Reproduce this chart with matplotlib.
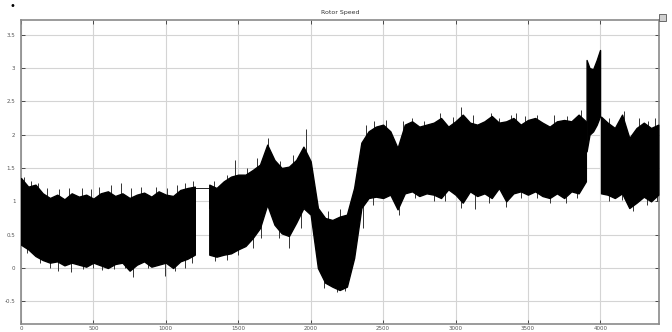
import numpy as np
import matplotlib
matplotlib.use("Agg")
import matplotlib.pyplot as plt
from matplotlib.patches import Rectangle

# envelope of the rotor speed trace
seg_a_x = [0, 50, 100, 150, 200, 250, 300, 350, 400, 450, 500, 550, 600,
           650, 700, 750, 800, 850, 900, 950, 1000, 1050, 1100, 1150, 1200]
seg_a_hi = [1.35, 1.22, 1.25, 1.12, 1.05, 1.1, 1.03, 1.12, 1.07, 1.1, 1.04, 1.12, 1.15,
            1.08, 1.12, 1.05, 1.1, 1.13, 1.07, 1.15, 1.1, 1.08, 1.17, 1.2, 1.22]
seg_a_lo = [0.35, 0.28, 0.18, 0.12, 0.08, 0.1, 0.04, 0.08, 0.05, 0.02, 0.08, 0.04, 0.0,
            0.06, 0.08, -0.04, 0.05, 0.1, 0.02, 0.05, 0.08, 0.0, 0.1, 0.14, 0.2]

# hold value during the data gap
gap_x = [1202, 1202, 1298, 1298]
gap_y = [0.25, 1.2, 1.2, 0.9]

seg_b_x = [1300, 1350, 1400, 1450, 1500, 1550, 1600, 1650, 1700, 1750, 1800, 1850, 1900,
           1950, 2000, 2050, 2100, 2150, 2200, 2250, 2300, 2350, 2400, 2450, 2500, 2550,
           2600, 2650, 2700, 2750, 2800, 2850, 2900, 2950, 3000, 3050, 3100, 3150, 3200,
           3250, 3300, 3350, 3400, 3450, 3500, 3550, 3600, 3650, 3700, 3750, 3800, 3850, 3900]
seg_b_hi = [1.25, 1.2, 1.3, 1.37, 1.4, 1.4, 1.47, 1.55, 1.85, 1.62, 1.5, 1.52, 1.62,
            1.82, 1.6, 0.9, 0.75, 0.72, 0.77, 0.8, 1.2, 1.88, 2.05, 2.12, 2.15, 2.05,
            1.8, 2.15, 2.2, 2.12, 2.15, 2.18, 2.25, 2.12, 2.2, 2.3, 2.18, 2.15, 2.2,
            2.28, 2.18, 2.2, 2.25, 2.15, 2.22, 2.25, 2.18, 2.12, 2.2, 2.22, 2.2, 2.3, 2.2]
seg_b_lo = [0.2, 0.17, 0.2, 0.22, 0.28, 0.33, 0.45, 0.6, 0.95, 0.65, 0.52, 0.48, 0.68,
            0.9, 0.8, 0.0, -0.22, -0.28, -0.33, -0.28, 0.15, 0.9, 1.05, 1.07, 1.05, 1.1,
            0.88, 1.12, 1.15, 1.08, 1.12, 1.1, 1.05, 1.18, 1.1, 0.98, 1.15, 1.08, 1.12,
            1.05, 1.2, 1.0, 1.12, 1.15, 1.1, 1.15, 1.08, 1.05, 1.12, 1.05, 1.15, 1.12, 1.3]

seg_c_x = [3905, 3925, 3950, 3975, 3998]
seg_c_hi = [3.12, 3.0, 2.98, 3.12, 3.27]
seg_c_lo = [1.75, 2.0, 2.05, 2.15, 2.28]

seg_d_x = [4005, 4050, 4100, 4150, 4200, 4250, 4300, 4350, 4400]
seg_d_hi = [2.27, 2.18, 2.1, 2.3, 1.95, 2.1, 2.18, 2.1, 2.15]
seg_d_lo = [1.12, 1.1, 1.05, 1.12, 0.9, 0.98, 1.07, 1.0, 1.1]

# single samples sticking out of the band
spike_up_x = [20, 70, 120, 180, 260, 330, 420, 480, 540, 620, 690, 760, 830, 930, 1010,
              1080, 1130, 1190, 1330, 1420, 1480, 1560, 1630, 1706, 1790, 1880, 1970,
              2120, 2200, 2380, 2440, 2520, 2640, 2700, 2780, 2894, 2980, 3040, 3120,
              3247, 3300, 3380, 3419, 3480, 3560, 3680, 3770, 3868, 4060, 4165, 4270,
              4330, 4380]
spike_up_y = [1.37, 1.3, 1.27, 1.2, 1.18, 1.2, 1.2, 1.18, 1.22, 1.25, 1.28, 1.2, 1.22,
              1.22, 1.2, 1.25, 1.27, 1.3, 1.3, 1.4, 1.62, 1.5, 1.65, 1.95, 1.6, 1.7,
              2.08, 0.85, 0.88, 2.15, 2.2, 2.22, 2.2, 2.25, 2.2, 2.33, 2.27, 2.42, 2.3,
              2.33, 2.25, 2.3, 2.33, 2.28, 2.3, 2.3, 2.28, 2.37, 2.25, 2.35, 2.25, 2.2,
              2.25]
spike_dn_x = [40, 130, 200, 255, 345, 430, 500, 560, 640, 720, 775, 880, 995, 1060, 1130,
              1180, 1340, 1420, 1500, 1600, 1660, 1780, 1850, 1930, 2090, 2180, 2240,
              2360, 2430, 2611, 2720, 2850, 2930, 3040, 3136, 3230, 3350, 3450, 3560,
              3650, 3765, 3840, 4060, 4150, 4227, 4320, 4390]
spike_dn_y = [0.22, 0.08, 0.0, -0.05, -0.06, -0.02, 0.0, -0.03, -0.02, 0.0, -0.13, 0.0,
              -0.12, -0.05, 0.0, 0.08, 0.1, 0.12, 0.2, 0.3, 0.45, 0.45, 0.3, 0.6, -0.3,
              -0.36, -0.35, 0.6, 0.95, 0.8, 1.05, 1.0, 1.0, 0.9, 0.88, 0.98, 0.92, 1.05,
              1.05, 0.98, 0.98, 1.05, 1.0, 1.02, 0.85, 0.95, 1.0]

x_ticks = [0, 500, 1000, 1500, 2000, 2500, 3000, 3500, 4000]
y_ticks = [-0.5, 0, 0.5, 1, 1.5, 2, 2.5, 3, 3.5]
y_tick_labels = ["-0.5", "0", "0.5", "1", "1.5", "2", "2.5", "3", "3.5"]

fig = plt.figure(figsize=(6.72, 3.32), dpi=100)
ax = fig.add_axes([21 / 672, 1 - 324 / 332, 638 / 672, 304 / 332])

for xs, hi, lo in [(seg_a_x, seg_a_hi, seg_a_lo), (seg_b_x, seg_b_hi, seg_b_lo),
                   (seg_c_x, seg_c_hi, seg_c_lo), (seg_d_x, seg_d_hi, seg_d_lo)]:
    ax.fill_between(xs, lo, hi, facecolor="black", edgecolor="black", linewidth=1.0, zorder=3)

ax.plot(gap_x, gap_y, color="black", linewidth=0.6, zorder=3)

all_x = seg_a_x + seg_b_x + seg_c_x + seg_d_x
all_mid = [(h + l) / 2 for h, l in zip(seg_a_hi + seg_b_hi + seg_c_hi + seg_d_hi,
                                       seg_a_lo + seg_b_lo + seg_c_lo + seg_d_lo)]
ax.vlines(spike_up_x, np.interp(spike_up_x, all_x, all_mid), spike_up_y,
          color="#333333", linewidth=0.7, zorder=2)
ax.vlines(spike_dn_x, spike_dn_y, np.interp(spike_dn_x, all_x, all_mid),
          color="#333333", linewidth=0.7, zorder=2)

ax.set_xlim(0, 4405)
ax.set_ylim(-0.84, 3.72)
ax.set_xticks(x_ticks)
ax.set_xticklabels([str(t) for t in x_ticks])
ax.set_yticks(y_ticks)
ax.set_yticklabels(y_tick_labels)
ax.tick_params(direction="in", length=3, width=0.6, colors="#333333", labelsize=4,
               labelcolor="#555555", top=True, right=True, pad=4)
ax.tick_params(axis="x", pad=1.5)
ax.grid(True, color="#d4d4d4", linewidth=0.8)
ax.set_axisbelow(True)
for s in ax.spines.values():
    s.set_color("#8a8a8a")
    s.set_linewidth(1.2)

ax.set_title("Rotor Speed", fontsize=4.5, color="#333333", pad=4)

# marker dot and small window icon from the screenshot
fig.text(12 / 672, 1 - 6 / 332, "\u2022", fontsize=7, ha="center", va="center")
fig.patches.append(Rectangle((659 / 672, 1 - 21 / 332), 7 / 672, 7 / 332,
                             transform=fig.transFigure, facecolor="#cfcfcf",
                             edgecolor="#555555", linewidth=0.6))

fig.savefig("out.png", dpi=100)
